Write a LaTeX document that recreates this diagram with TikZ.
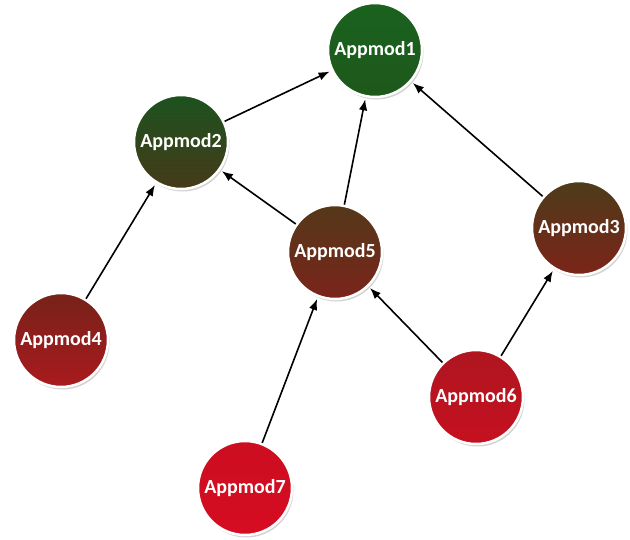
\documentclass[tikz,border=0pt]{standalone}
\usepackage{fontspec}
\setmainfont{Carlito}
\usetikzlibrary{arrows.meta,shadows}
\definecolor{g1t}{RGB}{26,98,30}
\definecolor{g1b}{RGB}{30,88,28}
\definecolor{g2t}{RGB}{28,82,30}
\definecolor{g2b}{RGB}{70,58,26}
\definecolor{g5t}{RGB}{84,56,26}
\definecolor{g5b}{RGB}{122,36,26}
\definecolor{g3t}{RGB}{76,60,26}
\definecolor{g3b}{RGB}{124,36,24}
\definecolor{g4t}{RGB}{118,34,26}
\definecolor{g4b}{RGB}{170,26,30}
\definecolor{g6t}{RGB}{174,22,32}
\definecolor{g6b}{RGB}{198,16,32}
\definecolor{g7t}{RGB}{204,14,32}
\definecolor{g7b}{RGB}{214,12,34}
\tikzset{
  modnode/.style={circle, minimum size=94pt, inner sep=0pt, draw=white,
    line width=2.5pt, text=white, font=\bfseries\fontsize{20}{24}\selectfont,
    drop shadow={opacity=0.35, shadow xshift=1.5pt, shadow yshift=-2.5pt}},
  link/.style={draw=black, line width=1.6pt,
    -{Latex[length=11pt,width=8.5pt]}, shorten >=2pt}
}
\begin{document}
\begin{tikzpicture}[x=1pt,y=-1pt]
\useasboundingbox (0,0) rectangle (630,539);
\node[modnode, top color=g1t, bottom color=g1b] (m1) at (375,50) {Appmod1};
\node[modnode, top color=g2t, bottom color=g2b] (m2) at (181,142) {Appmod2};
\node[modnode, top color=g5t, bottom color=g5b] (m5) at (335,252) {Appmod5};
\node[modnode, top color=g3t, bottom color=g3b] (m3) at (579,228) {Appmod3};
\node[modnode, top color=g4t, bottom color=g4b] (m4) at (61,340) {Appmod4};
\node[modnode, top color=g6t, bottom color=g6b] (m6) at (476,397) {Appmod6};
\node[modnode, top color=g7t, bottom color=g7b] (m7) at (245,488) {Appmod7};
\draw[link] (m2) -- (m1);
\draw[link] (m5) -- (m1);
\draw[link] (m3) -- (m1);
\draw[link] (m5) -- (m2);
\draw[link] (m4) -- (m2);
\draw[link] (m7) -- (m5);
\draw[link] (m6) -- (m5);
\draw[link] (m6) -- (m3);
\end{tikzpicture}
\end{document}
